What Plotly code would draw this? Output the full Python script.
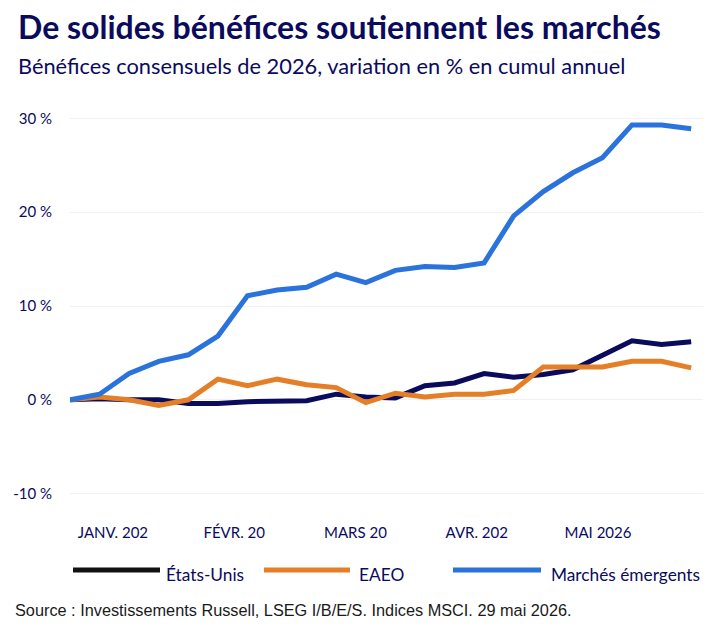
import plotly.graph_objects as go

# weekly points, Jan -> end of May 2026
semaines = list(range(22))

etats_unis = [0, 0.1, 0.0, 0.0, -0.4, -0.4, -0.2, -0.1, -0.1, 0.6, 0.3,
              0.2, 1.5, 1.8, 2.8, 2.4, 2.7, 3.2, 4.8, 6.3, 5.9, 6.2]
eaeo = [0, 0.3, 0.0, -0.6, 0.0, 2.2, 1.5, 2.2, 1.6, 1.3, -0.3,
        0.7, 0.3, 0.6, 0.6, 1.0, 3.5, 3.5, 3.5, 4.1, 4.1, 3.4]
emergents = [0, 0.6, 2.8, 4.1, 4.8, 6.8, 11.1, 11.7, 12.0, 13.4, 12.5,
             13.8, 14.2, 14.1, 14.6, 19.6, 22.2, 24.2, 25.8, 29.3, 29.3, 28.9]

mois = ["JANV. 202", "FÉVR. 20", "MARS 20", "AVR. 202", "MAI 2026"]
y_ticks = [-10, 0, 10, 20, 30]

series = [
    ("États-Unis", etats_unis, "#0b0b5e", "#111111"),
    ("EAEO", eaeo, "#e57f27", "#e57f27"),
    ("Marchés émergents", emergents, "#2a72dc", "#2a72dc"),
]

NAVY = "#0b0b5e"
O = 8  # page body margin of the html page
WIDTH, HEIGHT = 724 - O, 628 - O
L, R, T, B = 70 - O, 21, 109 - O, 125
PW = WIDTH - L - R
PH = HEIGHT - T - B


def px(xp, yp):
    # page pixel position -> paper fraction
    return (xp - O - L) / PW, (HEIGHT + O - B - yp) / PH


fig = go.Figure()
for name, vals, col, _ in series:
    fig.add_trace(go.Scatter(x=semaines, y=vals, mode="lines", name=name,
                             line=dict(color=col, width=5),
                             showlegend=False))

first_tick, step = 1.45, 4.1
tickvals = [first_tick + step * k for k in range(len(mois))]

fig.update_layout(
    width=WIDTH, height=HEIGHT,
    margin=dict(l=L, r=R, t=T, b=B, autoexpand=False),
    paper_bgcolor="white", plot_bgcolor="white",
    font=dict(family="Lato", color=NAVY, size=15),
    xaxis=dict(range=[0, 21.4],
               tickvals=tickvals, ticktext=mois,
               showgrid=False, zeroline=False, showline=False,
               ticks="outside", ticklen=16, tickcolor="rgba(0,0,0,0)",
               tickfont=dict(size=15, color=NAVY)),
    yaxis=dict(range=[-11, 31], tickvals=y_ticks,
               ticktext=[f"{v} %" for v in y_ticks],
               ticklabelstandoff=17,
               showgrid=True, gridcolor="#f1f1f1", gridwidth=1,
               zeroline=False, showline=False,
               tickfont=dict(size=15, color=NAVY)),
)

ann = []
x0, y0 = px(16, 26)
ann.append(dict(text="<b>De solides bénéfices soutiennent les marchés</b>",
                x=x0, y=y0, xanchor="left", yanchor="middle",
                font=dict(family="Lato", size=32, color=NAVY)))
x0, y0 = px(16, 66)
ann.append(dict(text="Bénéfices consensuels de 2026, variation en % en cumul annuel",
                x=x0, y=y0, xanchor="left", yanchor="middle",
                font=dict(family="Lato", size=21.8, color=NAVY)))
x0, y0 = px(13, 610)
ann.append(dict(text="Source : Investissements Russell, LSEG I/B/E/S. Indices MSCI. 29 mai 2026.",
                x=x0, y=y0, xanchor="left", yanchor="middle",
                font=dict(family="Liberation Sans", size=16.3, color="#1a1a1a")))

# legend drawn by hand: long keys like the original
key_x = [(73, 160, 164), (264, 350, 357), (453, 541, 549)]
shapes = []
for (name, _, _, key_col), (ka, kb, tx) in zip(series, key_x):
    xa, ya = px(ka, 570)
    xb, _ = px(kb, 570)
    shapes.append(dict(type="line", xref="paper", yref="paper",
                       x0=xa, x1=xb, y0=ya, y1=ya,
                       line=dict(color=key_col, width=5)))
    xt, yt = px(tx, 574)
    ann.append(dict(text=name, x=xt, y=yt, xanchor="left", yanchor="middle",
                    font=dict(family="Lato", size=17.3, color=NAVY)))

for a in ann:
    a.update(xref="paper", yref="paper", showarrow=False)
fig.update_layout(annotations=ann, shapes=shapes)

fig.write_html("out.html")
